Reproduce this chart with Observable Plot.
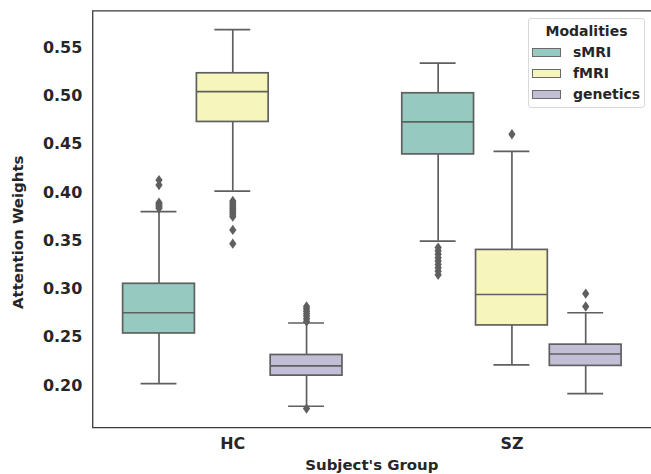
<!DOCTYPE html>
<html>
<head>
<meta charset="utf-8">
<script src="https://cdn.jsdelivr.net/npm/d3@7"></script>
<script src="https://cdn.jsdelivr.net/npm/@observablehq/plot@0.6"></script>
<style>
html, body { margin: 0; padding: 0; background: #fff; overflow: hidden; }
#wrap { position: relative; width: 651px; height: 474px; overflow: hidden; font-family: "DejaVu Sans", sans-serif; font-weight: bold; color: #262626; }
#legend { position: absolute; left: 528px; top: 18px; width: 117px; height: 90px; border: 1px solid #d9d9d9; border-radius: 3px; background: #fff; box-sizing: border-box; }
#legend .title { position: absolute; left: 0; width: 100%; top: 4px; text-align: center; font-size: 14px; line-height: 17px; }
#legend .sw { position: absolute; left: 3px; width: 29px; height: 9px; box-sizing: border-box; border: 1px solid #6a6a6a; }
#legend .lab { position: absolute; left: 44px; font-size: 14px; line-height: 17px; }
</style>
</head>
<body>
<div id="wrap"></div>
<script>
// ---- data ----
const groups = ["HC", "SZ"];
const modalities = ["sMRI", "fMRI", "genetics"];
const modalityColors = ["#96cac1", "#f6f6bc", "#c1bed6"];

const boxGroup    = ["HC", "HC", "HC", "SZ", "SZ", "SZ"];
const boxModality = ["sMRI", "fMRI", "genetics", "sMRI", "fMRI", "genetics"];
const whiskerLow  = [0.2021, 0.4014, 0.1786, 0.3495, 0.2214, 0.1917];
const quartile1   = [0.2540, 0.4730, 0.2103, 0.4394, 0.2623, 0.2204];
const medianVal   = [0.2754, 0.5044, 0.2204, 0.4730, 0.2943, 0.2327];
const quartile3   = [0.3054, 0.5234, 0.2317, 0.5027, 0.3405, 0.2424];
const whiskerHigh = [0.3801, 0.5685, 0.2648, 0.5340, 0.4425, 0.2754];

const outlierGroup = [
  "HC","HC","HC","HC","HC","HC","HC",
  "HC","HC","HC","HC","HC","HC","HC","HC","HC","HC","HC",
  "HC","HC","HC","HC","HC","HC","HC","HC",
  "SZ","SZ","SZ","SZ","SZ","SZ","SZ","SZ","SZ",
  "SZ",
  "SZ","SZ"
];
const outlierModality = [
  "sMRI","sMRI","sMRI","sMRI","sMRI","sMRI","sMRI",
  "fMRI","fMRI","fMRI","fMRI","fMRI","fMRI","fMRI","fMRI","fMRI","fMRI","fMRI",
  "genetics","genetics","genetics","genetics","genetics","genetics","genetics","genetics",
  "sMRI","sMRI","sMRI","sMRI","sMRI","sMRI","sMRI","sMRI","sMRI",
  "fMRI",
  "genetics","genetics"
];
const outlierValue = [
  0.4128, 0.4077, 0.3894, 0.3880, 0.3865, 0.3850, 0.3836,
  0.3911, 0.3890, 0.3870, 0.3850, 0.3830, 0.3810, 0.3790, 0.3770, 0.3749, 0.3612, 0.3470,
  0.2819, 0.2795, 0.2770, 0.2745, 0.2720, 0.2692, 0.2664, 0.1762,
  0.3429, 0.3395, 0.3360, 0.3325, 0.3290, 0.3255, 0.3220, 0.3185, 0.3147,
  0.4603,
  0.2952, 0.2819
];

const yTicks = [0.20, 0.25, 0.30, 0.35, 0.40, 0.45, 0.50, 0.55];
const yDomain = [0.1559, 0.5874];
const yLabel = "Attention Weights";
const xLabel = "Subject's Group";
const legendTitle = "Modalities";

// ---- tables built from the arrays ----
const boxes = boxGroup.map((g, i) => ({
  group: g, modality: boxModality[i],
  lo: whiskerLow[i], q1: quartile1[i], med: medianVal[i], q3: quartile3[i], hi: whiskerHigh[i]
}));
const outliers = outlierValue.map((v, i) => ({group: outlierGroup[i], modality: outlierModality[i], value: v}));

const lineColor = "#5f5f5f";
const lw = 1.7;

// thin diamond (matplotlib "d" marker)
const thinDiamond = {
  draw(context, size) {
    const r = Math.sqrt(size / Math.PI);
    const w = r * 0.7;
    context.moveTo(0, -r);
    context.lineTo(w, 0);
    context.lineTo(0, r);
    context.lineTo(-w, 0);
    context.closePath();
  }
};

const plot = Plot.plot({
  width: 653,
  height: 474,
  marginLeft: 93,
  marginRight: 0,
  marginTop: 11,
  marginBottom: 45,
  style: {fontFamily: "'DejaVu Sans', sans-serif", fontSize: "16px", fontWeight: "bold", color: "#262626", background: "transparent"},
  fx: {domain: groups, padding: 0, label: null},
  x: {domain: modalities, paddingInner: 0.03, paddingOuter: 0.39, axis: null},
  y: {domain: yDomain, label: null},
  color: {domain: modalities, range: modalityColors},
  marks: [
    Plot.axisFx({anchor: "bottom", tickSize: 0, tickPadding: 10, label: null}),
    Plot.axisY({ticks: yTicks, tickFormat: d3.format(".2f"), tickSize: 0, tickPadding: 11, label: null}),
    Plot.ruleX(boxes, {fx: "group", x: "modality", y1: "lo", y2: "hi", stroke: lineColor, strokeWidth: lw}),
    Plot.barY(boxes, {fx: "group", x: "modality", y1: "q1", y2: "q3", fill: "modality", stroke: lineColor, strokeWidth: lw}),
    Plot.tickY(boxes, {fx: "group", x: "modality", y: "med", stroke: lineColor, strokeWidth: lw}),
    Plot.tickY(boxes, {fx: "group", x: "modality", y: "lo", stroke: lineColor, strokeWidth: lw, insetLeft: 18, insetRight: 18}),
    Plot.tickY(boxes, {fx: "group", x: "modality", y: "hi", stroke: lineColor, strokeWidth: lw, insetLeft: 18, insetRight: 18}),
    Plot.dot(outliers, {fx: "group", x: "modality", y: "value", symbol: thinDiamond, r: 5.2, fill: lineColor, stroke: null})
  ]
});

const wrap = document.getElementById("wrap");
wrap.appendChild(plot);

// frame (left, top, bottom) from the plot's own scales
const svg = d3.select(plot);
const yr = plot.scale("y").range;
const fxr = plot.scale("fx").range;
const x0 = fxr[0], x1 = fxr[1] + 2;
const yTop = Math.min(...yr), yBot = Math.max(...yr);
svg.append("path")
  .attr("d", `M${x1},${yTop}H${x0}V${yBot}H${x1}`)
  .attr("fill", "none").attr("stroke", "#3a3a3a").attr("stroke-width", 1.3);

// axis titles
svg.append("text").text(yLabel)
  .attr("transform", `translate(18,233) rotate(-90)`)
  .attr("text-anchor", "middle").attr("dominant-baseline", "central")
  .attr("font-size", 15)
  .attr("fill", "currentColor");
svg.append("text").text(xLabel)
  .attr("x", 373).attr("y", 471)
  .attr("text-anchor", "middle")
  .attr("font-size", 15)
  .attr("fill", "currentColor");

// legend
const legend = document.createElement("div");
legend.id = "legend";
const t = document.createElement("div");
t.className = "title"; t.textContent = legendTitle;
legend.appendChild(t);
modalities.forEach((m, i) => {
  const cy = 33.5 + i * 21;
  const sw = document.createElement("div");
  sw.className = "sw"; sw.style.top = (cy - 4.5) + "px"; sw.style.background = modalityColors[i];
  const lab = document.createElement("div");
  lab.className = "lab"; lab.style.top = (cy - 9) + "px"; lab.textContent = m;
  legend.appendChild(sw); legend.appendChild(lab);
});
wrap.appendChild(legend);
</script>
</body>
</html>
